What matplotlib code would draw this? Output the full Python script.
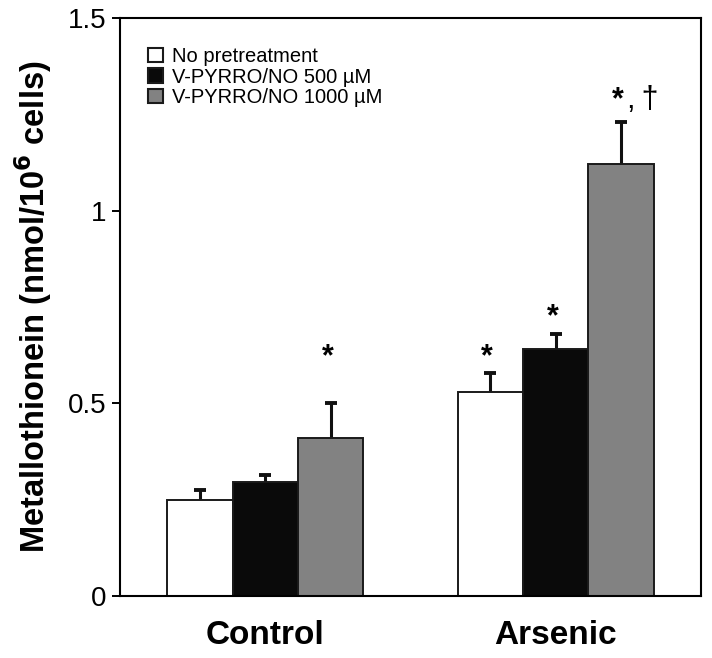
import matplotlib
matplotlib.use("Agg")
import matplotlib.pyplot as plt
from matplotlib.patches import Patch
import numpy as np

plt.rcParams['font.family'] = ['Liberation Sans', 'DejaVu Sans']

# Data (nmol / 10^6 cells)
groups = ['Control', 'Arsenic']
series = ['No pretreatment', 'V-PYRRO/NO 500 \u00b5M', 'V-PYRRO/NO 1000 \u00b5M']
colors = ['white', '#0a0a0a', '#828282']
means = [
    [0.25, 0.53],   # no pretreatment
    [0.295, 0.64],  # 500 uM
    [0.41, 1.12],   # 1000 uM
]
errs = [
    [0.025, 0.05],
    [0.018, 0.04],
    [0.09, 0.11],
]
# significance marks: (series index, group index, extra label, height)
marks = [(2, 0, '', 0.58), (0, 1, '', 0.58), (1, 1, '', 0.685),
         (2, 1, ',\u2009\u2020', 1.248)]

fig = plt.figure(figsize=(7.12, 6.58), dpi=100)
ax = fig.add_axes([0.1685, 0.0942, 0.816, 0.8784])

x = np.arange(1, len(groups) + 1)
w = 0.225
for i, (m, e, c) in enumerate(zip(means, errs, colors)):
    pos = x + (i - 1) * w
    ax.errorbar(pos, m, yerr=e, fmt='none', ecolor='#111111', elinewidth=2.2,
                capsize=4, capthick=2.8, zorder=1)
    ax.bar(pos, m, width=w, color=c, edgecolor='#1a1a1a', linewidth=1.4, zorder=2)

for i, j, extra, h in marks:
    xp = x[j] + (i - 1) * w
    ax.annotate('*', (xp, h), xytext=(-6.5, 0), textcoords='offset points',
                ha='left', va='bottom', fontsize=22, fontweight='bold')
    if extra:
        ax.annotate(extra, (xp, h), xytext=(4, 0), textcoords='offset points',
                    ha='left', va='bottom', fontsize=22)

ax.set_xlim(0.5, 2.5)
ax.set_ylim(0, 1.5)
ax.set_yticks([0, 0.5, 1, 1.5])
ax.set_yticklabels(['0', '0.5', '1', '1.5'], fontsize=20)
ax.set_xticks(x)
ax.set_xticklabels(groups, fontsize=24, fontweight='bold')
ax.tick_params(axis='x', length=0, pad=17)
ax.tick_params(axis='y', direction='out', length=6, width=1.4, pad=4)
for s in ax.spines.values():
    s.set_linewidth(1.5)
ax.set_ylabel('Metallothionein (nmol/10$^\\mathbf{6}$ cells)', fontsize=23.5,
              fontweight='bold', labelpad=10)

handles = [Patch(facecolor=c, edgecolor='#1a1a1a', linewidth=1.5) for c in colors]
ax.legend(handles, series, loc='upper left', bbox_to_anchor=(0.035, 0.964),
          frameon=False, fontsize=14.5, handlelength=0.72, handleheight=0.72,
          handletextpad=0.45, labelspacing=0.08, borderaxespad=0)

fig.savefig('out.png', dpi=100)
